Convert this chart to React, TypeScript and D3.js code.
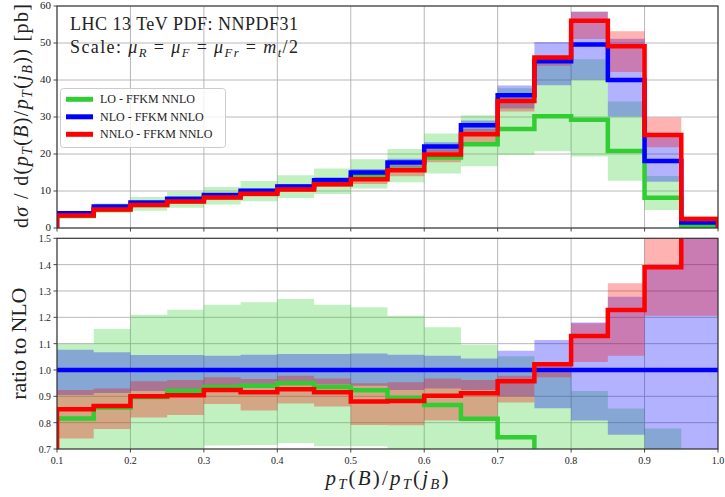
import React from "react";
import * as d3 from "d3";

// bin edges in pT(B)/pT(jB)
const binEdges = [0.1, 0.15, 0.2, 0.25, 0.3, 0.35, 0.4, 0.45, 0.5, 0.55, 0.6, 0.65, 0.7, 0.75, 0.8, 0.85, 0.9, 0.95, 1.0];

// NLO central values [pb]
const nloCentral = [4.0, 5.8, 6.9, 7.9, 8.9, 10.1, 11.2, 12.9, 15.0, 17.7, 22.0, 27.8, 35.9, 45.1, 49.6, 40.0, 18.1, 1.5];

// ratios to NLO central
const loRatio = [0.816, 0.858, 0.897, 0.92, 0.935, 0.94, 0.95, 0.935, 0.923, 0.895, 0.867, 0.815, 0.745, 0.67, 0.59, 0.52, 0.45, 0.33];
const nnloRatio = [0.851, 0.863, 0.9, 0.904, 0.924, 0.915, 0.927, 0.915, 0.88, 0.882, 0.902, 0.912, 0.957, 1.022, 1.129, 1.228, 1.39, 1.6];

// scale-variation bands, as ratio to NLO central
const loBandLow = [0.69, 0.69, 0.68, 0.69, 0.713, 0.715, 0.723, 0.71, 0.71, 0.7, 0.67, 0.6, 0.55, 0.46, 0.39, 0.32, 0.27, 0.1];
const loBandHigh = [1.1, 1.156, 1.21, 1.229, 1.248, 1.257, 1.27, 1.248, 1.238, 1.206, 1.162, 1.096, 1.052, 0.99, 0.92, 0.854, 0.778, 0.6];
const nloBandLow = [0.905, 0.913, 0.92, 0.925, 0.94, 0.94, 0.945, 0.945, 0.94, 0.924, 0.93, 0.924, 0.9, 0.855, 0.808, 0.754, 0.69, 0.5];
const nloBandHigh = [1.077, 1.067, 1.057, 1.057, 1.054, 1.058, 1.061, 1.061, 1.063, 1.058, 1.054, 1.044, 1.073, 1.114, 1.18, 1.278, 1.4, 1.7];
const nnloBandLow = [0.74, 0.776, 0.82, 0.829, 0.871, 0.846, 0.873, 0.861, 0.791, 0.79, 0.808, 0.805, 0.877, 0.972, 1.03, 1.054, 1.206, 1.206];
const nnloBandHigh = [0.924, 0.93, 0.957, 0.962, 0.972, 0.966, 0.978, 0.968, 0.95, 0.953, 0.968, 0.962, 0.978, 1.03, 1.177, 1.329, 1.65, 2.07];

const xTicks = [0.1, 0.2, 0.3, 0.4, 0.5, 0.6, 0.7, 0.8, 0.9, 1.0];
const yTicksTop = [0, 10, 20, 30, 40, 50, 60];
const yTicksRatio = [0.7, 0.8, 0.9, 1.0, 1.1, 1.2, 1.3, 1.4, 1.5];

const legendLabels = ["LO - FFKM NNLO", "NLO - FFKM NNLO", "NNLO - FFKM NNLO"];
const colors = ["#32cd32", "#0000ff", "#ff0000"];

const W = 725;
const H = 497;
const left = 57;
const right = 718;
const top1 = 6;
const bot1 = 228;
const top2 = 238.3;
const bot2 = 449;
const FONT = "'Liberation Serif', 'DejaVu Serif', serif";
const TXT = "#222";

const x = d3.scaleLinear().domain([0.1, 1.0]).range([left, right]);
const yTop = d3.scaleLinear().domain([0, 60]).range([bot1, top1]);
const yRat = d3.scaleLinear().domain([0.7, 1.5]).range([bot2, top2]);

const nBins = nloCentral.length;
const ix = (i: number) => Math.min(i, nBins - 1);

const series = [
  { central: loRatio, lo: loBandLow, hi: loBandHigh },
  { central: nloCentral.map(() => 1), lo: nloBandLow, hi: nloBandHigh },
  { central: nnloRatio, lo: nnloBandLow, hi: nnloBandHigh },
];

function bandPath(lo: number[], hi: number[], y: d3.ScaleLinear<number, number>, abs: boolean) {
  const area = d3
    .area<number>()
    .x((e) => x(e))
    .y0((e, i) => y(lo[ix(i)] * (abs ? nloCentral[ix(i)] : 1)))
    .y1((e, i) => y(hi[ix(i)] * (abs ? nloCentral[ix(i)] : 1)))
    .curve(d3.curveStepAfter);
  return area(binEdges) || "";
}

function stepPath(
  vals: number[],
  y: d3.ScaleLinear<number, number>,
  abs: boolean,
  startEdge: boolean,
  endEdge: boolean
) {
  const pts: [number, number][] = binEdges.map((e, i) => [x(e), y(vals[ix(i)] * (abs ? nloCentral[ix(i)] : 1))]);
  if (startEdge) pts.unshift([x(0.1), y(0)]);
  if (endEdge) pts.push([x(1.0), y(0)]);
  return d3.line().curve(d3.curveStepAfter)(pts) || "";
}

const Sub = ({ children, shift = -4 }: { children: React.ReactNode; shift?: number }) => (
  <tspan baselineShift={shift} fontSize="0.7em" fontStyle="italic">
    {children}
  </tspan>
);

// italic math symbol
const M = ({ children }: { children: React.ReactNode }) => <tspan fontStyle="italic">{children}</tspan>;

export default function App() {
  return (
    <svg
      width={W}
      height={H}
      style={{ position: "absolute", left: 0, top: 0, background: "#fff" }}
      fontFamily={FONT}
    >
      <defs>
        <clipPath id="clipTop">
          <rect x={left} y={top1} width={right - left} height={bot1 - top1} />
        </clipPath>
        <clipPath id="clipRat">
          <rect x={left} y={top2} width={right - left} height={bot2 - top2} />
        </clipPath>
      </defs>
      <rect width={W} height={H} fill="#fff" />

      {/* grids */}
      <g stroke="#b0b0b0" strokeWidth={0.9}>
        {xTicks.map((t) => (
          <g key={"gx" + t}>
            <line x1={x(t)} x2={x(t)} y1={top1} y2={bot1} />
            <line x1={x(t)} x2={x(t)} y1={top2} y2={bot2} />
          </g>
        ))}
        {yTicksTop.map((t) => (
          <line key={"gyt" + t} x1={left} x2={right} y1={yTop(t)} y2={yTop(t)} />
        ))}
        {yTicksRatio.map((t) => (
          <line key={"gyr" + t} x1={left} x2={right} y1={yRat(t)} y2={yRat(t)} />
        ))}
      </g>

      {/* top panel */}
      <g clipPath="url(#clipTop)">
        {series.map((s, k) => (
          <path key={"bt" + k} d={bandPath(s.lo, s.hi, yTop, true)} fill={colors[k]} fillOpacity={0.3} />
        ))}
        {series.map((s, k) => (
          <path
            key={"lt" + k}
            d={stepPath(s.central, yTop, true, true, true)}
            fill="none"
            stroke={colors[k]}
            strokeWidth={4.5}
            strokeLinejoin="miter"
          />
        ))}
      </g>

      {/* ratio panel */}
      <g clipPath="url(#clipRat)">
        {series.map((s, k) => (
          <path key={"br" + k} d={bandPath(s.lo, s.hi, yRat, false)} fill={colors[k]} fillOpacity={0.3} />
        ))}
        {series.map((s, k) => (
          <path
            key={"lr" + k}
            d={stepPath(s.central, yRat, false, k !== 1, false)}
            fill="none"
            stroke={colors[k]}
            strokeWidth={4.5}
            strokeLinejoin="miter"
          />
        ))}
      </g>

      {/* spines */}
      <g fill="none" stroke="#333" strokeWidth={1.1}>
        <rect x={left} y={top1} width={right - left} height={bot1 - top1} />
        <rect x={left} y={top2} width={right - left} height={bot2 - top2} />
      </g>

      {/* ticks */}
      <g stroke="#333" strokeWidth={0.9}>
        {xTicks.map((t) => (
          <g key={"tx" + t}>
            <line x1={x(t)} x2={x(t)} y1={bot1} y2={bot1 + 3.5} />
            <line x1={x(t)} x2={x(t)} y1={bot2} y2={bot2 + 3.5} />
          </g>
        ))}
        {yTicksTop.map((t) => (
          <line key={"tyt" + t} x1={left - 3.5} x2={left} y1={yTop(t)} y2={yTop(t)} />
        ))}
        {yTicksRatio.map((t) => (
          <line key={"tyr" + t} x1={left - 3.5} x2={left} y1={yRat(t)} y2={yRat(t)} />
        ))}
      </g>

      {/* tick labels */}
      <g fill={TXT}>
        {yTicksTop.map((t) => (
          <text key={"lyt" + t} x={left - 6} y={yTop(t) + 3} fontSize={11} textAnchor="end">
            {t}
          </text>
        ))}
        {yTicksRatio.map((t) => (
          <text key={"lyr" + t} x={left - 6} y={yRat(t) + 4} fontSize={9.8} textAnchor="end">
            {t.toFixed(1)}
          </text>
        ))}
        {xTicks.map((t) => (
          <text key={"lx" + t} x={x(t)} y={bot2 + 15} fontSize={10} textAnchor="middle">
            {t.toFixed(1)}
          </text>
        ))}
      </g>

      {/* annotations */}
      <text x={70} y={30} fontSize={18} fill={TXT} textLength={228} lengthAdjust="spacing">
        LHC 13 TeV PDF: NNPDF31
      </text>
      <text x={70} y={53} fontSize={18} fill={TXT} textLength={228} lengthAdjust="spacing">
        Scale: <M>μ</M>
        <Sub shift={-3.5}>R</Sub>
        <tspan> = </tspan>
        <M>μ</M>
        <Sub shift={-3.5}>F</Sub>
        <tspan> = </tspan>
        <M>μ</M>
        <Sub shift={-3.5}>Fr</Sub>
        <tspan> = </tspan>
        <M>m</M>
        <Sub shift={-3.5}>t</Sub>
        <tspan>/2</tspan>
      </text>

      {/* legend */}
      <g>
        <rect x={60.5} y={88.5} width={165} height={59} rx={3} fill="#fff" fillOpacity={0.8} stroke="#ccc" />
        {legendLabels.map((lab, k) => {
          const yy = 99.3 + k * 17.5;
          return (
            <g key={lab}>
              <line x1={66} x2={93} y1={yy} y2={yy} stroke={colors[k]} strokeWidth={5} />
              <text x={100} y={yy + 4} fontSize={12} fill={TXT}>
                {lab}
              </text>
            </g>
          );
        })}
      </g>

      {/* axis labels */}
      <text
        transform={`translate(28,${(top1 + bot1) / 2 - 1}) rotate(-90)`}
        fontSize={20}
        textAnchor="middle"
        fill={TXT}
        textLength={224}
        lengthAdjust="spacing"
      >
        d<M>σ</M> / d(<M>p</M>
        <Sub>T</Sub>
        (<M>B</M>)/<M>p</M>
        <Sub>T</Sub>
        (<M>j</M>
        <Sub>B</Sub>
        )) [pb]
      </text>
      <text
        transform={`translate(26,${(top2 + bot2) / 2}) rotate(-90)`}
        fontSize={22}
        textAnchor="middle"
        fill={TXT}
        textLength={112}
        lengthAdjust="spacing"
      >
        ratio to NLO
      </text>
      <text x={387} y={485} fontSize={21} textAnchor="middle" fill={TXT} textLength={123} lengthAdjust="spacing">
        <M>p</M>
        <Sub shift={-3.5}>T</Sub>
        (<M>B</M>)/<M>p</M>
        <Sub shift={-3.5}>T</Sub>
        (<M>j</M>
        <Sub shift={-3.5}>B</Sub>
        )
      </text>
    </svg>
  );
}
